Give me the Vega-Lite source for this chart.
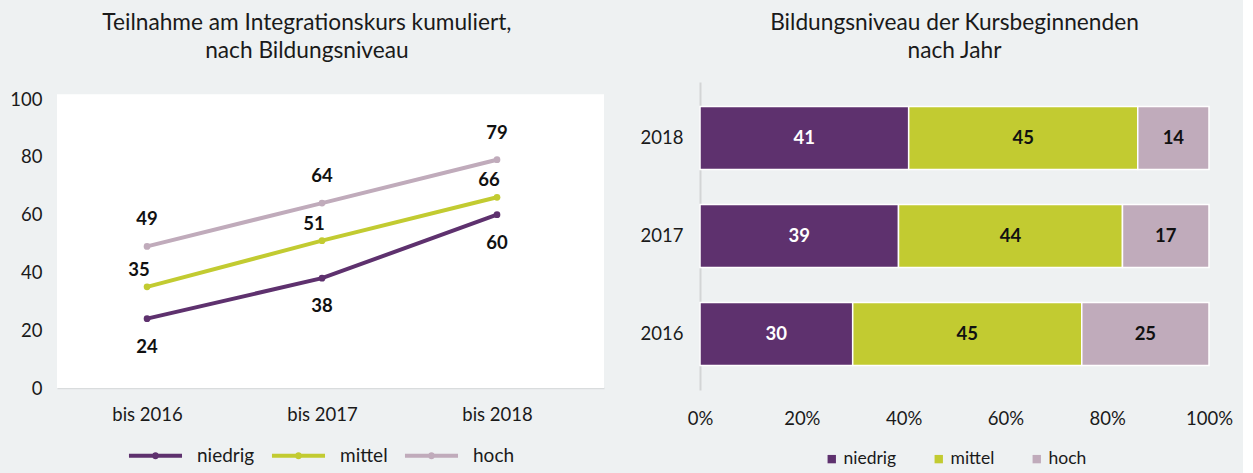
{
  "$schema": "https://vega.github.io/schema/vega-lite/v6.json",
  "background": "#eef1f2",
  "padding": {"left": 9, "top": 12, "right": 10, "bottom": 5},
  "config": {
    "font": "Lato",
    "view": {"stroke": null},
    "axis": {"labelFont": "Lato", "labelFontSize": 18.5, "labelColor": "#1a1a1a", "ticks": false, "grid": false, "title": null},
    "legend": {"labelFont": "Lato", "labelFontSize": 19, "labelColor": "#1a1a1a", "title": null, "layout": {"bottom": {"anchor": "middle"}}},
    "title": {"font": "Lato", "fontSize": 22.7, "fontWeight": "normal", "color": "#1a1a1a", "lineHeight": 28}
  },
  "datasets": {
    "kumuliert": [
      {"zeit": "bis 2016", "niveau": "niedrig", "wert": 24},
      {"zeit": "bis 2017", "niveau": "niedrig", "wert": 38},
      {"zeit": "bis 2018", "niveau": "niedrig", "wert": 60},
      {"zeit": "bis 2016", "niveau": "mittel", "wert": 35},
      {"zeit": "bis 2017", "niveau": "mittel", "wert": 51},
      {"zeit": "bis 2018", "niveau": "mittel", "wert": 66},
      {"zeit": "bis 2016", "niveau": "hoch", "wert": 49},
      {"zeit": "bis 2017", "niveau": "hoch", "wert": 64},
      {"zeit": "bis 2018", "niveau": "hoch", "wert": 79}
    ],
    "jahr": [
      {"jahr": "2018", "niveau": "niedrig", "anteil": 41},
      {"jahr": "2018", "niveau": "mittel", "anteil": 45},
      {"jahr": "2018", "niveau": "hoch", "anteil": 14},
      {"jahr": "2017", "niveau": "niedrig", "anteil": 39},
      {"jahr": "2017", "niveau": "mittel", "anteil": 44},
      {"jahr": "2017", "niveau": "hoch", "anteil": 17},
      {"jahr": "2016", "niveau": "niedrig", "anteil": 30},
      {"jahr": "2016", "niveau": "mittel", "anteil": 45},
      {"jahr": "2016", "niveau": "hoch", "anteil": 25}
    ]
  },
  "spacing": 36,
  "resolve": {"scale": {"color": "independent"}, "legend": {"color": "independent"}},
  "hconcat": [
    {
      "width": 547,
      "height": 306,
      "title": {"text": ["Teilnahme am Integrationskurs kumuliert,", "nach Bildungsniveau"], "offset": 19, "frame": "bounds"},
      "layer": [
        {
          "data": {"values": [{}]},
          "mark": {"type": "rect", "fill": "white"},
          "encoding": {
            "y": {"datum": 0, "type": "quantitative"},
            "y2": {"datum": 101.7}
          }
        },
        {
          "data": {"name": "kumuliert"},
          "mark": {"type": "line", "strokeWidth": 4},
          "encoding": {
            "x": {"field": "zeit", "type": "ordinal", "scale": {"type": "point", "padding": 0.563, "align": 0.457}, "axis": {"labelAngle": 0, "labelPadding": 17, "domain": true, "domainColor": "#d9dcdd", "domainWidth": 1.5}},
            "y": {"field": "wert", "type": "quantitative", "scale": {"domain": [0, 105.9], "nice": false}, "axis": {"values": [0, 20, 40, 60, 80, 100], "domain": false, "labelPadding": 15}},
            "color": {"field": "niveau", "type": "nominal", "scale": {"domain": ["niedrig", "mittel", "hoch"], "range": ["#5e316e", "#c2cb31", "#c0abbb"]}, "legend": {"orient": "bottom", "direction": "horizontal", "offset": 22, "symbolType": "M-3.79,-0.286 L3.79,-0.286 L3.79,0.286 L-3.79,0.286 Z M-0.514,0 A0.514,0.514 0 1,1 0.514,0 A0.514,0.514 0 1,1 -0.514,0 Z", "symbolSize": 196, "symbolStrokeWidth": 0, "symbolOpacity": 1, "labelOffset": 32, "columnPadding": 16}}
          }
        },
        {
          "data": {"name": "kumuliert"},
          "mark": {"type": "point", "filled": true, "size": 45, "opacity": 1},
          "encoding": {
            "x": {"field": "zeit", "type": "ordinal"},
            "y": {"field": "wert", "type": "quantitative"},
            "color": {"field": "niveau", "type": "nominal"}
          }
        },
        {
          "data": {"name": "kumuliert"},
          "transform": [{"filter": "datum.niveau === 'hoch'"}],
          "mark": {"type": "text", "fontWeight": "bold", "fontSize": 18.5, "dy": -27, "color": "#111111"},
          "encoding": {
            "x": {"field": "zeit", "type": "ordinal"},
            "y": {"field": "wert", "type": "quantitative"},
            "text": {"field": "wert", "type": "quantitative"}
          }
        },
        {
          "data": {"name": "kumuliert"},
          "transform": [{"filter": "datum.niveau === 'mittel'"}],
          "mark": {"type": "text", "fontWeight": "bold", "fontSize": 18.5, "dy": -17, "dx": -8, "color": "#111111"},
          "encoding": {
            "x": {"field": "zeit", "type": "ordinal"},
            "y": {"field": "wert", "type": "quantitative"},
            "text": {"field": "wert", "type": "quantitative"}
          }
        },
        {
          "data": {"name": "kumuliert"},
          "transform": [{"filter": "datum.niveau === 'niedrig'"}],
          "mark": {"type": "text", "fontWeight": "bold", "fontSize": 18.5, "dy": 28, "color": "#111111"},
          "encoding": {
            "x": {"field": "zeit", "type": "ordinal"},
            "y": {"field": "wert", "type": "quantitative"},
            "text": {"field": "wert", "type": "quantitative"}
          }
        }
      ]
    },
    {
      "width": 509,
      "height": 308,
      "title": {"text": ["Bildungsniveau der  Kursbeginnenden", "nach Jahr"], "offset": 19, "frame": "group"},
      "data": {"name": "jahr"},
      "encoding": {
        "y": {"field": "jahr", "type": "nominal", "sort": "descending", "scale": {"paddingInner": 0.357, "paddingOuter": 0.25}, "axis": {"domain": true, "domainColor": "#d3d5d6", "domainWidth": 2, "labelPadding": 17}}
      },
      "layer": [
        {
          "mark": {"type": "bar", "stroke": "white", "strokeWidth": 1.5},
          "encoding": {
            "x": {"field": "anteil", "type": "quantitative", "stack": "zero", "scale": {"domain": [0, 100], "nice": false}, "axis": {"values": [0, 20, 40, 60, 80, 100], "labelExpr": "datum.value + '%'", "labelFlush": false, "domain": false, "labelPadding": 19}},
            "order": {"field": "niveau", "type": "nominal", "sort": "descending"},
            "color": {"field": "niveau", "type": "nominal", "scale": {"domain": ["niedrig", "mittel", "hoch"], "range": ["#5e316e", "#c2cb31", "#c0abbb"]}, "legend": {"orient": "bottom", "direction": "horizontal", "offset": 22, "symbolType": "square", "symbolSize": 70, "symbolStrokeWidth": 0, "labelOffset": 3, "labelFontSize": 17.5, "columnPadding": 33}}
          }
        },
        {
          "mark": {"type": "text", "fontWeight": "bold", "fontSize": 18.5},
          "encoding": {
            "x": {"field": "anteil", "type": "quantitative", "stack": "zero", "bandPosition": 0.5},
            "order": {"field": "niveau", "type": "nominal", "sort": "descending"},
            "detail": {"field": "niveau", "type": "nominal"},
            "text": {"field": "anteil", "type": "quantitative"},
            "color": {"condition": {"test": "datum.niveau === 'niedrig'", "value": "white"}, "value": "#111111"}
          }
        }
      ]
    }
  ]
}
